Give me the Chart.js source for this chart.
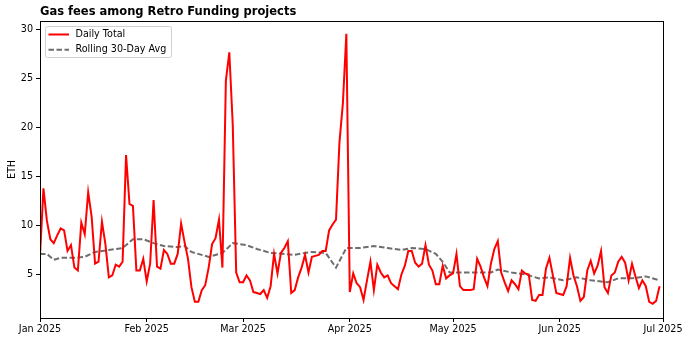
<!DOCTYPE html>
<html>
<head>
<meta charset="utf-8">
<script src="https://cdn.jsdelivr.net/npm/chart.js@4.4.1/dist/chart.umd.min.js"></script>
<style>
    body { margin: 0; background: #fff; }
    #wrap { width: 690px; height: 340px; }
</style>
</head>
<body>
<div id="wrap"><canvas id="gasChart" width="690" height="340"></canvas></div>
<script>
// daily total (ETH), 1 Jan 2025 .. 30 Jun 2025
const dailyTotal = [
    6.9, 13.8, 10.5, 8.6, 8.2, 9.0, 9.7, 9.5, 7.4, 8.0,
    5.7, 5.4, 10.3, 9.1, 13.4, 10.9, 6.1, 6.3, 10.4, 8.1,
    4.7, 4.9, 6.0, 5.8, 6.3, 17.2, 12.2, 12.0, 5.4, 5.4,
    6.6, 4.3, 6.1, 12.6, 5.8, 5.6, 7.5, 7.1, 6.1, 6.1,
    7.1, 10.2, 8.3, 6.6, 3.7, 2.2, 2.2, 3.4, 3.9, 5.7,
    8.1, 8.7, 10.6, 5.7, 24.8, 27.7, 20.3, 5.2, 4.2, 4.2,
    4.9, 4.4, 3.2, 3.1, 3.0, 3.4, 2.6, 3.8, 7.1, 5.1,
    7.2, 7.7, 8.4, 3.1, 3.4, 4.7, 5.7, 7.0, 5.2, 6.8,
    6.9, 7.0, 7.4, 7.4, 9.5, 10.1, 10.6, 18.5, 22.5, 29.6,
    3.2, 5.1, 4.1, 3.7, 2.4, 4.4, 6.3, 3.4, 6.0, 5.2,
    4.7, 4.9, 4.1, 3.8, 3.5, 5.0, 5.9, 7.4, 7.4, 6.2,
    5.8, 6.1, 8.0, 6.0, 5.4, 4.0, 4.0, 5.9, 4.6, 4.9,
    5.1, 7.1, 3.8, 3.4, 3.4, 3.4, 3.5, 6.6, 5.8, 4.7,
    3.8, 6.1, 7.6, 8.4, 5.2, 4.2, 3.3, 4.4, 4.0, 3.5,
    5.4, 5.1, 5.0, 2.4, 2.3, 2.9, 2.9, 5.6, 6.7, 4.9,
    3.1, 3.0, 2.9, 3.8, 6.7, 4.9, 3.8, 2.3, 2.7, 5.4,
    6.4, 5.1, 5.9, 7.4, 3.7, 3.1, 4.9, 5.2, 6.3, 6.8,
    6.2, 4.4, 6.1, 4.8, 3.6, 4.4, 3.8, 2.2, 2.0, 2.3,
    3.8
];

const avgDays = [
    0, 2, 4, 6, 10, 13, 16, 20, 24, 27, 30, 33, 36, 40, 42, 44, 49, 53, 56, 60,
    63, 67, 71, 74, 77, 79, 83, 86, 89, 93, 97, 101, 105, 108, 112, 115, 117, 119,
    123, 127, 131, 133, 137, 141, 145, 148, 152, 156, 160, 165, 168, 172, 176, 180
];
const avgValues = [
    7.1, 7.1, 6.5, 6.7, 6.7, 6.8, 7.3, 7.5, 7.7, 8.6, 8.6, 8.2, 7.9, 7.8, 7.9, 7.3, 6.8, 7.2, 8.2, 8.0,
    7.6, 7.2, 7.1, 7.0, 7.2, 7.3, 7.2, 5.7, 7.7, 7.7, 7.9, 7.7, 7.5, 7.7, 7.6, 7.1, 6.3, 5.2,
    5.2, 5.2, 5.2, 5.5, 5.2, 5.0, 4.6, 4.7, 4.4, 4.7, 4.4, 4.2, 4.6, 4.6, 4.8, 4.4
];

// tick labels
const monthTicks = [0, 31, 59, 90, 120, 151, 181];
const monthLabels = ['Jan 2025', 'Feb 2025', 'Mar 2025', 'Apr 2025', 'May 2025', 'Jun 2025', 'Jul 2025'];
const yTicks = [5, 10, 15, 20, 25, 30];

const FONT = "'DejaVu Sans', sans-serif";

// frame, title, y label and legend drawn matplotlib style
const decorPlugin = {
    id: 'decor',
    afterDraw(chart) {
        const c = chart.ctx;
        const a = chart.chartArea;

        c.save();

        c.strokeStyle = '#000';
        c.lineWidth = 1;
        c.strokeRect(Math.round(a.left) + 0.5, Math.round(a.top) + 0.5,
            Math.round(a.right - a.left), Math.round(a.bottom - a.top));

        c.fillStyle = '#000';
        c.font = "bold 11.5px " + FONT;
        c.textBaseline = 'alphabetic';
        c.textAlign = 'left';
        c.fillText('Gas fees among Retro Funding projects', a.left, 15);

        c.font = "9.6px " + FONT;
        c.translate(12, (a.top + a.bottom) / 2);
        c.rotate(-Math.PI / 2);
        c.textAlign = 'center';
        c.textBaseline = 'middle';
        c.fillText('ETH', 0, 0);
        c.setTransform(1, 0, 0, 1, 0, 0);

        // legend box
        const lx = a.left + 5, ly = a.top + 5, lw = 126, lh = 31;
        c.beginPath();
        c.roundRect(lx + 0.5, ly + 0.5, lw, lh, 2);
        c.fillStyle = 'rgba(255,255,255,0.8)';
        c.fill();
        c.strokeStyle = '#d0d0d0';
        c.stroke();

        const items = chart.data.datasets;
        items.forEach((ds, i) => {
            const y = ly + 8.5 + i * 15.3;
            c.beginPath();
            c.strokeStyle = ds.borderColor;
            c.lineWidth = ds.borderWidth;
            c.setLineDash(ds.borderDash || []);
            c.moveTo(lx + 3.5, y);
            c.lineTo(lx + 24, y);
            c.stroke();
            c.setLineDash([]);

            c.fillStyle = '#000';
            c.font = "9.6px " + FONT;
            c.textAlign = 'left';
            c.textBaseline = 'middle';
            c.fillText(ds.label, lx + 30.5, y);
        });

        c.restore();
    }
};

const ctx = document.getElementById('gasChart');

new Chart(ctx, {

    type: 'line',

    data: {
        datasets: [{
            label: 'Daily Total',
            data: dailyTotal.map((v, i) => ({ x: i, y: v })),

            borderColor: '#ff0000',
            borderWidth: 2,
            tension: 0,
            pointRadius: 0,
            fill: false
        }, {
            label: 'Rolling 30-Day Avg',
            data: avgDays.map((d, i) => ({ x: d, y: avgValues[i] })),

            borderColor: '#6e6e6e',
            borderWidth: 2,
            borderDash: [5.5, 2.5],
            tension: 0,
            pointRadius: 0,
            fill: false
        }]
    },

    options: {

        responsive: false,
        animation: false,
        devicePixelRatio: 1,

        layout: {
            padding: { left: 0, top: 21, right: 27, bottom: 0 }
        },

        plugins: {
            legend: { display: false },
            tooltip: { enabled: false }
        },

        scales: {

            x: {
                type: 'linear',
                min: 0,
                max: 181,

                afterFit(scale) { scale.height = 22; },
                afterBuildTicks(scale) {
                    scale.ticks = monthTicks.map(v => ({ value: v }));
                },

                grid: {
                    drawOnChartArea: false,
                    drawTicks: true,
                    tickLength: 4,
                    color: '#000'
                },
                border: { color: '#000', width: 1 },

                ticks: {
                    autoSkip: false,
                    maxRotation: 0,
                    padding: 2,
                    color: '#000',
                    font: { family: FONT, size: 9.6 },
                    callback: (v) => monthLabels[monthTicks.indexOf(v)]
                }
            },

            y: {
                min: 0.55,
                max: 30.9,

                afterFit(scale) { scale.width = 40; },
                afterBuildTicks(scale) {
                    scale.ticks = yTicks.map(v => ({ value: v }));
                },

                grid: {
                    drawOnChartArea: false,
                    drawTicks: true,
                    tickLength: 4,
                    color: '#000'
                },
                border: { color: '#000', width: 1 },

                ticks: {
                    padding: 3,
                    color: '#000',
                    font: { family: FONT, size: 9.6 }
                }
            }
        }
    },

    plugins: [decorPlugin]
});
</script>
</body>
</html>
